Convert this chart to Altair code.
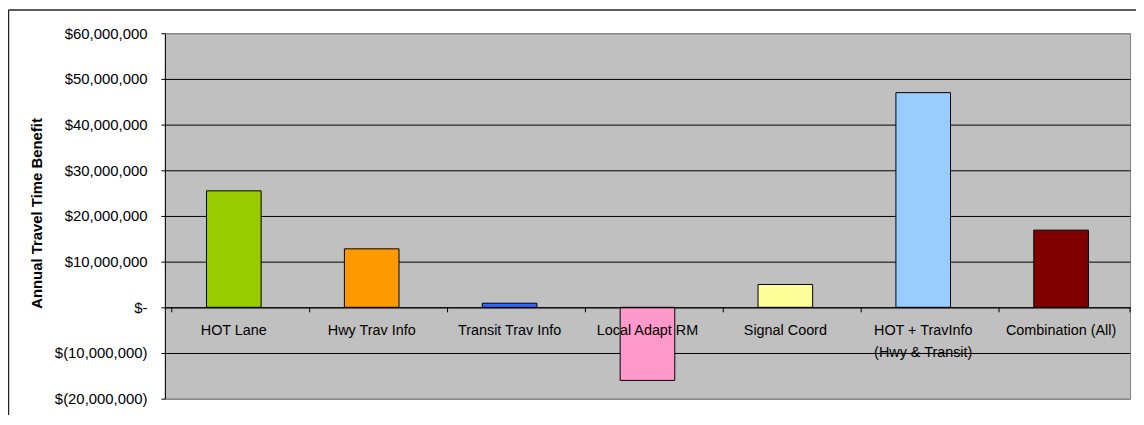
import altair as alt
import pandas as pd

categories = [
    "HOT Lane",
    "Hwy Trav Info",
    "Transit Trav Info",
    "Local Adapt RM",
    "Signal Coord",
    "HOT + TravInfo\n(Hwy & Transit)",
    "Combination (All)",
]
benefits = [25500000, 12800000, 900000, -16000000, 5000000, 47000000, 16900000]
bar_colors = ["#99CC00", "#FF9900", "#3366FF", "#FF99CC", "#FFFF99", "#99CCFF", "#800000"]
y_ticks = [-20000000, -10000000, 0, 10000000, 20000000, 30000000, 40000000, 50000000, 60000000]
y_title = "Annual Travel Time Benefit"

df = pd.DataFrame({"cat": categories, "value": benefits})
one = pd.DataFrame({"k": [0]})

W, H = 972, 368
FONT = "Liberation Sans"

y_scale = alt.Scale(domain=[-20000000, 60000000], nice=False, zero=False)
x_enc = alt.X(
    "cat:N",
    sort=categories,
    axis=alt.Axis(
        orient="bottom",
        offset=-92,
        title=None,
        ticks=False,
        tickSize=0,
        labelAngle=0,
        labelFontSize=14.5,
        labelFont=FONT,
        labelColor="black",
        labelPadding=16.5,
        labelLineHeight=21.6,
        labelExpr="split(datum.value, '\\n')",
        labelOverlap=False,
        labelLimit=0,
        domainColor="black",
        domainWidth=1,
        zindex=1,
    ),
)

y_enc = alt.Y(
    "value:Q",
    scale=y_scale,
    axis=alt.Axis(
        values=y_ticks,
        title=y_title,
        titleFont=FONT,
        titleFontSize=15,
        titleFontWeight="bold",
        titleColor="black",
        titleX=-129.5,
        titleY=181,
        titleAngle=270,
        titleAlign="center",
        titleBaseline="middle",
        labelFont=FONT,
        labelFontSize=15,
        labelColor="black",
        labelPadding=14,
        tickSize=4,
        tickColor="black",
        domainColor="black",
        domainWidth=1,
        grid=True,
        gridColor={
            "condition": {"test": "datum.value == 60000000 || datum.value == -20000000", "value": "#808080"},
            "value": "black",
        },
        gridWidth=1,
        labelExpr="datum.value == 0 ? '$-\u00a0\u00a0\u00a0\u2009' : (datum.value < 0 ? '$(' + format(-datum.value, ',') + ')' : '$' + format(datum.value, ','))",
        zindex=0,
    ),
)

bars = alt.Chart(df).mark_bar(size=55, stroke="black", strokeWidth=1).encode(
    x=x_enc,
    y=y_enc,
    color=alt.Color("cat:N", scale=alt.Scale(domain=categories, range=bar_colors), legend=None),
)

ticks = alt.Chart(df).mark_rule(color="black", strokeWidth=1).encode(
    x=alt.X("cat:N", sort=categories, bandPosition=0),
    y=alt.datum(0),
    y2=alt.datum(-1100000),
)

end_tick = alt.Chart(one).mark_rule(color="black", strokeWidth=1).encode(
    x=alt.value(W),
    y=alt.datum(0),
    y2=alt.datum(-1100000),
)

frame_left = alt.Chart(one).mark_rule(color="#222222", strokeWidth=1.5).encode(
    x=alt.value(-157.5), y=alt.value(-23.5), y2=alt.value(H + 40)
)
frame_top = alt.Chart(one).mark_rule(color="#222222", strokeWidth=1.5).encode(
    x=alt.value(-157.5), x2=alt.value(W + 10), y=alt.value(-23.5)
)

chart = (
    alt.layer(bars, ticks, end_tick, frame_left, frame_top)
    .properties(
        width=W,
        height=H,
        autosize=alt.AutoSizeParams(type="none"),
        padding={"left": 158, "top": 24, "right": 6, "bottom": 15},
        background="white",
    )
    .configure_view(fill="#C0C0C0", stroke="#808080", strokeWidth=1)
)

chart.save("out.html", embed_options={"renderer": "svg", "actions": False})
